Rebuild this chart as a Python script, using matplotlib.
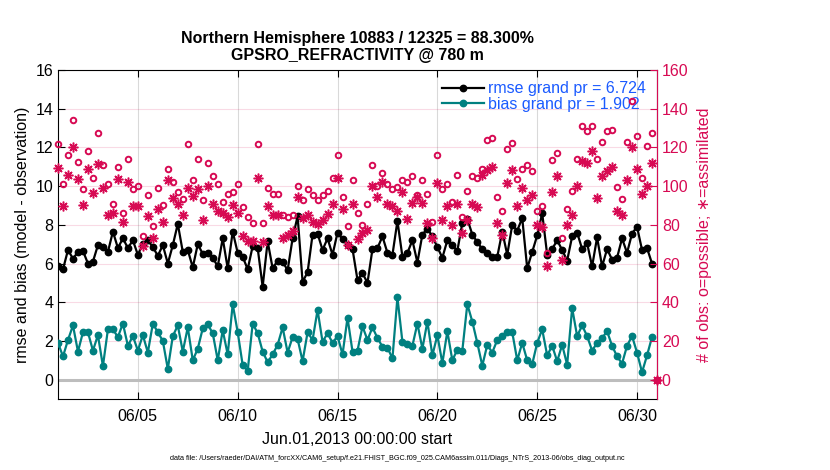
import numpy as np
import matplotlib
matplotlib.use('Agg')
import matplotlib.pyplot as plt
from datetime import datetime, timedelta

plt.rcParams['font.family'] = ['Liberation Sans', 'DejaVu Sans']

nan = float('nan')

rmse = [5.85, 5.7, 6.7, 6.25, 6.6, 6.65, 6.0, 6.1, 6.95, 6.85, 6.6, 7.65, 6.8, 7.3, 6.8, 7.2, 6.45, 7.0, 7.2, 6.85, 6.4, 6.95,
        6.0, 6.95, 8.05, 6.6, 6.7, 5.8, 7.0, 6.5, 6.55, 6.3, 5.85, 7.3, 5.75, 7.65, 6.55, 6.35, 5.7, 6.9, 6.8, 4.8,
        7.15, 5.75, 6.15, 6.1, 5.65, 7.3, 8.45, 5.05, 5.55, 7.5, 7.55, 6.7, 7.3, 6.45, 7.6, 7.25, 6.95, 6.75, 5.15, 5.5,
        5.0, 6.75, 6.8, 7.4, 6.55, 6.45, 8.2, 6.35, 6.55, 7.2, 6.05, 7.5, 7.8, 7.4, 6.85, 6.3, 7.2, 6.95,
        6.65, 8.1, 8.3, 7.5, 7.1, 6.75, 6.55, 6.35, 6.35, 7.65, 6.45, 8.0, 7.7, 8.35, 5.75, 6.6, 7.45, 8.6, 6.45, 6.75,
        7.2, 6.7, 6.15, 7.4, 7.6, 6.75, 7.05, 5.85, 7.35, 5.85, 6.75, 6.2, 6.3, 7.3, 6.55, 7.55, 7.9, 6.7, 6.8, 6.0,
        nan]

bias = [1.9, 1.2, 2.05, 2.8, 1.45, 2.45, 2.45, 1.5, 2.3, 0.7, 2.6, 2.6, 2.2, 2.9, 1.75, 2.25, 1.5, 2.3, 1.4, 2.9, 2.45, 2.0,
        0.55, 2.25, 2.8, 1.45, 2.7, 1.0, 1.6, 2.65, 2.85, 2.4, 1.0, 2.55, 1.3, 3.9, 2.45, 0.75, 0.45, 2.9, 2.4, 1.45,
        0.9, 1.3, 1.8, 2.7, 1.4, 2.2, 2.1, 0.95, 2.45, 2.05, 3.6, 1.95, 2.4, 1.9, 2.25, 1.3, 3.2, 1.45, 1.5, 2.75,
        2.05, 2.7, 2.15, 1.7, 1.65, 1.1, 4.25, 1.95, 1.85, 1.75, 2.9, 1.6, 3.0, 1.25, 2.3, 0.85, 2.5, 1.0,
        1.55, 1.5, 3.9, 3.0, 1.9, 0.72, 1.8, 1.4, 2.05, 2.25, 2.45, 2.45, 1.0, 1.9, 1.0, 0.8, 1.9, 2.6, 1.25, 1.75,
        0.95, 1.8, 0.77, 3.7, 2.25, 2.8, 2.25, 1.5, 1.9, 2.15, 2.5, 1.75, 1.2, 0.83, 1.75, 2.25, 1.4, 0.38, 1.25, 2.2,
        nan]

possible = [122, 101, 116, 134, 112.5, 98.6, 118, 104, 127.5, 111, 101, 91, 110, 86, 114, 98.6, 100, 74, 95.5, 79.5, 99, 90,
            109, 102, 97, 93.6, 122, 103, 114, 93, 112, 105, 101, 92, 96, 97, 101, 89, 84, 81, 122, 81,
            99, 96, 96, 85, 84, 85, 100, 93, 98.6, 95.5, 93, 95.5, 97.7, 104, 116, 94.6, 79.5, 103, 86, 80,
            91, 111, 100, 107, 101, 98.6, 99.3, 103, 102, 105, 95.5, 103, 96, 81.4, 116, 98.4, 101, 92,
            106, 84, 97.5, 105, 104, 109, 124, 125, 94.6, 87, 119, 122.5, 103.6, 109, 111, 108, 87, 89.5, 65.4, 113.5,
            117.3, 73, 88, 97.5, 114, 131, 128.5, 131, 114, 123, 128.5, 129, 99.3, 93.2, 123, 144, 126, 104, 120.8, 127.7,
            0]

assimilated = [109.6, 89.5, 105.5, 120, 103.6, 90.5, 108.7, 96.3, 111.3, 98.8, 85.2, 86, 103.6, 81.4, 102.2, 89.5, 89.5, 69, 84.6, 73, 88.3, 81.7,
               103, 94, 91, 85, 99, 95, 98.6, 82.6, 100, 91, 87.4, 86, 84, 90.5, 86, 74, 71.7, 71.4, 104, 71,
               89.5, 85, 85, 73, 75, 76.6, 94.6, 83.4, 85, 81.4, 80.5, 82.6, 85.5, 91, 104, 88, 69.7, 91, 72.8, 75.7,
               77.4, 100, 94.3, 102, 91, 89.5, 87, 97, 83, 91.5, 94.6, 91.5, 81, 73, 101.5, 82.6, 89.5, 80,
               91, 75.7, 82.6, 91, 89, 105.8, 108.4, 109.8, 81.2, 74.8, 101.8, 108.4, 89.5, 99, 92.9, 95.5, 80, 79.1, 58.8, 97.2,
               105, 62, 80, 85, 100, 113, 112, 118, 94, 105, 108, 110, 87, 85, 103, 120, 109, 96, 100, 112,
               0]

tick_days = [5, 10, 15, 20, 25, 30]
tick_labels = ['06/05', '06/10', '06/15', '06/20', '06/25', '06/30']
left_ticks = [0, 2, 4, 6, 8, 10, 12, 14, 16]
right_ticks = [0, 20, 40, 60, 80, 100, 120, 140, 160]

start = datetime(2013, 6, 1)
times = [start + timedelta(hours=6 * i) for i in range(len(possible))]

CRIMSON = '#d70a53'
TEAL = '#008080'
FS = 11.5

fig = plt.figure(figsize=(8.3, 4.7), dpi=100)
ax = fig.add_axes([58 / 830, 71 / 470, 599 / 830, 329 / 470])

ax.set_xlim(start, datetime(2013, 7, 1))
ax.set_ylim(-1, 16)
ax.set_yticks(left_ticks)
ax.set_xticks([datetime(2013, 6, d) for d in tick_days])
ax.set_xticklabels(tick_labels)
ax.tick_params(axis='both', direction='in', labelsize=FS, length=5)
ax.tick_params(axis='x', top=True, pad=7)
ax.tick_params(axis='y', right=False)

ax.xaxis.grid(True, color='#000000', alpha=0.15, lw=0.8)
ax.yaxis.grid(True, color=CRIMSON, alpha=0.15, lw=0.8)
ax.set_axisbelow(True)
ax.axhline(0, color='#bdbdbd', lw=2.2, zorder=1)

ax.plot(times, rmse, '-o', color='black', lw=1.6, ms=4.6, label='rmse grand pr = 6.724', zorder=3)
ax.plot(times, bias, '-o', color=TEAL, lw=1.6, ms=4.6, label='bias grand pr = 1.902', zorder=3)

ax.set_ylabel('rmse and bias (model - observation)', fontsize=FS)
ax.set_xlabel('Jun.01,2013 00:00:00 start', fontsize=FS, labelpad=6)
ax.set_title('Northern Hemisphere 10883 / 12325 = 88.300%\nGPSRO_REFRACTIVITY @ 780 m',
             fontsize=11.5, fontweight='bold', pad=7)

leg = ax.legend(loc='upper right', frameon=False, fontsize=FS, labelcolor='#1a5aff',
                handlelength=2.6, handletextpad=0.25, borderaxespad=0.3, labelspacing=0.05)

ax2 = ax.twinx()
ax2.set_ylim(-10, 160)
ax2.set_yticks(right_ticks)
ax2.plot(times, possible, 'o', mfc='none', mec=CRIMSON, ms=4.0, mew=1.4, clip_on=False, zorder=4)
ax2.plot(times, assimilated, marker=(8, 2, 0), ls='none', color=CRIMSON, mec=CRIMSON, ms=7.0, mew=1.1,
         clip_on=False, zorder=4)
ax2.tick_params(axis='y', direction='in', colors=CRIMSON, labelsize=FS, length=5)
for s in ['left', 'top', 'bottom']:
    ax2.spines[s].set_visible(False)
ax2.spines['right'].set_color(CRIMSON)
ax2.set_ylabel('# of obs: o=possible; \u2217=assimilated', color=CRIMSON, fontsize=FS, labelpad=6)

fig.text(397 / 830, 1 - 458 / 470,
         'data file: /Users/raeder/DAI/ATM_forcXX/CAM6_setup/f.e21.FHIST_BGC.f09_025.CAM6assim.011/Diags_NTrS_2013-06/obs_diag_output.nc',
         ha='center', va='center', fontsize=5.2)

fig.savefig('out.png', dpi=100)
